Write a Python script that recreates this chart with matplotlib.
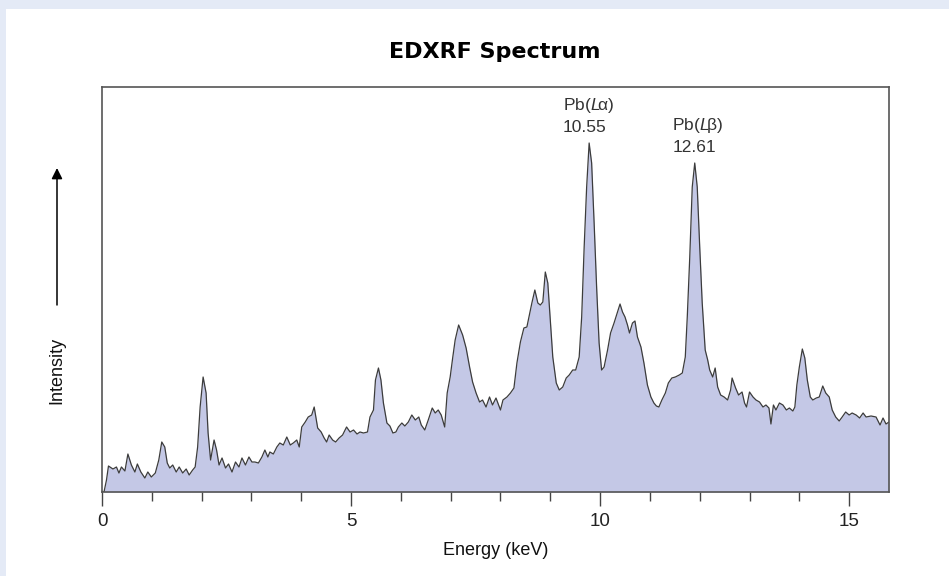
import matplotlib
matplotlib.use('Agg')
import matplotlib.pyplot as plt
from matplotlib.patches import Rectangle

# spectrum (energy in keV, intensity in arbitrary units)
energy_kev = [
  0.00, 0.04, 0.09, 0.13, 0.22, 0.29, 0.34, 0.39, 0.46, 0.52, 0.59, 0.66, 0.71,
  0.78, 0.86, 0.92, 0.99, 1.07, 1.14, 1.20, 1.26, 1.31, 1.36, 1.42, 1.49, 1.55,
  1.62, 1.69, 1.75, 1.82, 1.87, 1.92, 1.97, 2.03, 2.09, 2.13, 2.18, 2.25, 2.30,
  2.35, 2.41, 2.48, 2.54, 2.61, 2.68, 2.75, 2.81, 2.88, 2.95, 3.01,
  3.07, 3.14, 3.21, 3.27, 3.33, 3.37, 3.44, 3.51, 3.57, 3.64, 3.71, 3.78, 3.84,
  3.91, 3.96, 4.01, 4.08, 4.14, 4.21, 4.26, 4.33, 4.40, 4.46, 4.51, 4.56, 4.63,
  4.69, 4.76, 4.83, 4.91, 4.98, 5.05, 5.12, 5.18, 5.25, 5.33, 5.38, 5.45, 5.49,
  5.55, 5.60, 5.65, 5.72, 5.78, 5.84, 5.90, 5.95, 6.02, 6.08, 6.15, 6.22,
  6.29, 6.36, 6.41, 6.48, 6.55, 6.63, 6.69, 6.75, 6.81, 6.88, 6.93, 6.99, 7.04,
  7.09, 7.16, 7.24, 7.31, 7.38, 7.44, 7.51, 7.58, 7.64, 7.71, 7.78, 7.84, 7.91,
  8.00, 8.05, 8.13, 8.20, 8.27, 8.33, 8.40, 8.47, 8.53, 8.58, 8.63, 8.69, 8.75,
  8.80, 8.85, 8.90, 8.95, 9.00, 9.05, 9.12, 9.18, 9.25, 9.32, 9.38, 9.45,
  9.51, 9.58, 9.63, 9.68, 9.73, 9.78, 9.83, 9.88, 9.93, 9.98, 10.03, 10.08,
  10.15, 10.21, 10.28, 10.35, 10.40, 10.45, 10.50, 10.55, 10.59, 10.65, 10.70,
  10.75, 10.82, 10.88, 10.95, 11.02, 11.08, 11.13, 11.18, 11.24, 11.31, 11.37,
  11.44, 11.51, 11.59, 11.65, 11.71, 11.75, 11.80, 11.85, 11.90, 11.95, 12.00,
  12.05, 12.11, 12.16, 12.20, 12.26, 12.31, 12.36, 12.42, 12.49, 12.56, 12.62,
  12.65, 12.72, 12.78, 12.85, 12.90, 12.94, 13.00, 13.07, 13.13, 13.20, 13.27,
  13.33, 13.39, 13.43, 13.48, 13.53, 13.60, 13.67, 13.74, 13.80, 13.87, 13.91,
  13.95, 14.00, 14.06, 14.11, 14.16, 14.22, 14.27, 14.34, 14.40, 14.47, 14.53,
  14.60, 14.66, 14.73, 14.80, 14.86, 14.93, 15.00, 15.06, 15.14, 15.21, 15.28,
  15.34, 15.44, 15.54, 15.62, 15.68, 15.74, 15.80]

intensity = [
  0, 0, 12, 26, 23, 25, 19, 25, 21, 38, 27, 20, 28,
  20, 14, 20, 15, 19, 32, 50, 45, 29, 24, 27, 20, 25,
  19, 23, 17, 22, 25, 45, 85, 115, 99, 59, 32, 52, 42,
  27, 34, 24, 28, 20, 30, 25, 34, 27, 35, 30,
  30, 29, 35, 42, 35, 40, 38, 45, 49, 47, 55, 47, 49,
  52, 45, 65, 70, 75, 77, 85, 64, 60, 54, 50, 57, 52,
  50, 54, 57, 65, 60, 62, 58, 60, 59, 60, 75, 82, 112,
  124, 112, 89, 69, 66, 59, 60, 65, 69, 66, 70, 77,
  72, 75, 67, 62, 72, 84, 79, 82, 77, 65, 99, 115, 134,
  152, 167, 157, 144, 125, 110, 99, 90, 92, 85, 95, 87, 94,
  82, 92, 95, 99, 104, 129, 150, 164, 165, 177, 189, 202, 189,
  187, 190, 220, 209, 172, 135, 109, 102, 105, 114, 117, 122,
  122, 135, 175, 245, 305, 349, 329, 269, 205, 149, 122, 125,
  142, 159, 169, 180, 188, 180, 175, 167, 159, 169, 171,
  155, 145, 129, 107, 95, 89, 86, 85, 92, 99, 109,
  114, 115, 117, 119, 135, 175, 235, 305, 329, 305, 245,
  189, 142, 132, 122, 115, 124, 105, 97, 95, 92, 102,
  114, 104, 97, 100, 89, 85, 100, 95, 92, 90, 85,
  87, 84, 68, 87, 82, 89, 87, 82, 84, 81, 85,
  107, 125, 143, 134, 112, 95, 92, 94, 95, 106, 99,
  95, 82, 75, 71, 75, 80, 77, 79, 77, 74, 79,
  75, 76, 75, 67, 74, 68, 70]

peak_labels = [r'Pb($L\!$α)' + '\n10.55', r'Pb($L\!$β)' + '\n12.61']
peak_label_pos = [(9.25, 396), (11.45, 376)]

major_ticks = [0, 5, 10, 15]
minor_ticks = list(range(0, 16))

plt.rcParams['font.family'] = ['Liberation Sans', 'DejaVu Sans']
plt.rcParams['mathtext.fontset'] = 'custom'
plt.rcParams['mathtext.rm'] = 'Liberation Sans'
plt.rcParams['mathtext.it'] = 'Liberation Sans:italic'

fig = plt.figure(figsize=(9.49, 5.76), dpi=100, facecolor='#e4eaf6')
fig.patches.append(Rectangle((6 / 949, 0), 1, 1 - 9 / 576, transform=fig.transFigure,
                             facecolor='white', edgecolor='none', zorder=-10))

ax = fig.add_axes([102 / 949, 1 - 492 / 576, 787 / 949, 405 / 576])
ax.set_facecolor('white')

ax.fill_between(energy_kev, intensity, 0, color='#c4c8e6', linewidth=0)
ax.plot(energy_kev, intensity, color='#3c3c3c', linewidth=0.9)

for lab, (x, y) in zip(peak_labels, peak_label_pos):
  ax.text(x, y, lab, fontsize=12.5, color='#333333', ha='left', va='top',
          linespacing=1.4)

ax.set_xlim(0, 15.8)
ax.set_ylim(0, 405)
ax.set_xticks(major_ticks)
ax.set_xticks(minor_ticks, minor=True)
ax.set_yticks([])
ax.tick_params(axis='x', which='major', length=10, width=1, color='#444444',
               labelsize=13.5, pad=5, labelcolor='#222222')
ax.tick_params(axis='x', which='minor', length=6.5, width=1, color='#444444')
for s in ax.spines.values():
  s.set_color('#555555')
  s.set_linewidth(1.2)

ax.set_xlabel('Energy (keV)', fontsize=13, color='#111111', labelpad=9)

fig.text(495 / 949, 1 - 52 / 576, 'EDXRF Spectrum', fontsize=16,
         fontweight='bold', family='DejaVu Sans', ha='center', va='center')

fig.text(57 / 949, 1 - 370 / 576, 'Intensity', fontsize=13, rotation=90,
         ha='center', va='center', color='#111111')
ax.annotate('', xy=(57 / 949, 1 - 168 / 576), xytext=(57 / 949, 1 - 305 / 576),
            xycoords='figure fraction', textcoords='figure fraction',
            arrowprops=dict(arrowstyle='-|>', color='black', lw=1.1,
                            mutation_scale=16, shrinkA=0, shrinkB=0))

fig.savefig('out.png', dpi=100, facecolor=fig.get_facecolor())
